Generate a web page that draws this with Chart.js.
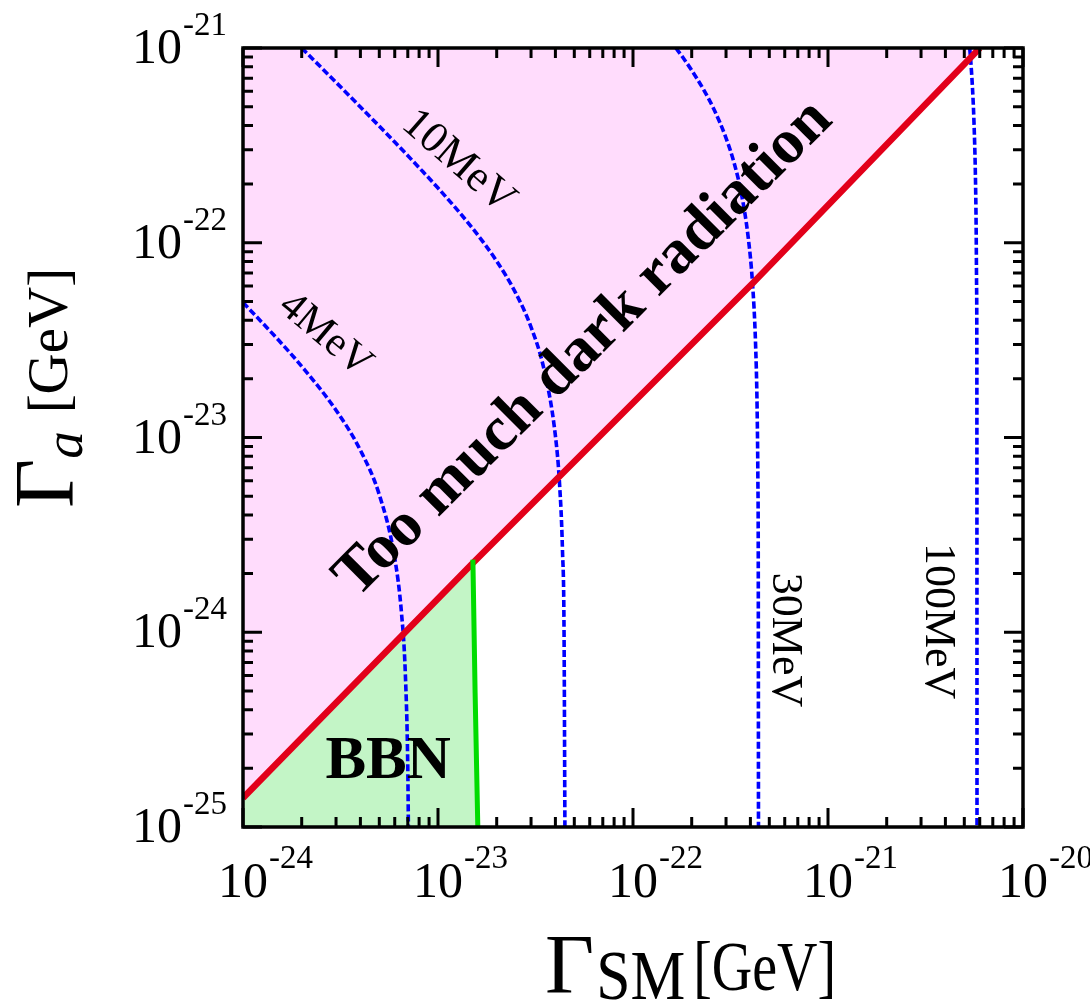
<!DOCTYPE html>
<html>
<head>
<meta charset="utf-8">
<script src="https://cdn.jsdelivr.net/npm/chart.js@4.4.1/dist/chart.umd.min.js"></script>
<style>
  html, body { margin: 0; padding: 0; background: #fff; }
  #wrap { width: 1090px; height: 1002px; position: relative; }
</style>
</head>
<body>
<div id="wrap"><canvas id="chart_decay"></canvas></div>
<script>
// red boundary: above it there is too much dark radiation
const redX = [1e-24, 1.51e-23, 4.12e-22, 6.01e-21];
const redY = [1.41e-25, 2.27e-24, 6.21e-23, 1e-21];
// green BBN boundary
const bbnX = [1.51e-23, 1.55e-23, 1.60e-23];
const bbnY = [2.36e-24, 4.88e-25, 1e-25];
// temperature contours (blue dashed)
const mev4X = [1.0e-24, 1.5e-24, 2.0e-24, 3.0e-24, 4.0e-24, 5.0e-24, 6.0e-24, 6.5e-24, 6.8e-24, 7.0e-24, 7.05e-24];
const mev4Y = [4.94e-23, 3.21e-23, 2.32e-23, 1.38e-23, 8.6e-24, 5.08e-24, 2.4e-24, 1.25e-24, 6.1e-25, 2.0e-25, 1e-25];
const mev10X = [2.0e-24, 3.0e-24, 4.0e-24, 6.0e-24, 8.0e-24, 1.0e-23, 1.5e-23, 2.0e-23, 2.5e-23, 3.0e-23, 3.5e-23, 4.0e-23, 4.2e-23, 4.35e-23, 4.43e-23, 4.475e-23];
const mev10Y = [1e-21, 6.66e-22, 4.98e-22, 3.29e-22, 2.43e-22, 1.91e-22, 1.19e-22, 8.04e-23, 5.53e-23, 3.69e-23, 2.23e-23, 1.02e-23, 5.8e-24, 2.6e-24, 1.0e-24, 1e-25];
const mev30X = [1.66e-22, 1.8e-22, 2.0e-22, 2.3e-22, 2.6e-22, 3.0e-22, 3.3e-22, 3.6e-22, 3.9e-22, 4.1e-22, 4.25e-22, 4.33e-22, 4.37e-22, 4.39e-22, 4.4e-22];
const mev30Y = [1e-21, 8.96e-22, 7.68e-22, 6.12e-22, 4.85e-22, 3.45e-22, 2.57e-22, 1.78e-22, 1.06e-22, 6.2e-23, 3.05e-23, 1.41e-23, 6.0e-24, 2.0e-24, 1e-25];
const mev100X = [5.33e-21, 5.4e-21, 5.5e-21, 5.6e-21, 5.7e-21, 5.75e-21, 5.78e-21, 5.8e-21, 5.81e-21];
const mev100Y = [1e-21, 8.5e-22, 6.38e-22, 4.29e-22, 2.23e-22, 1.21e-22, 6.1e-23, 2.1e-23, 1e-25];
// axis decades
const xTickExps = [-24, -23, -22, -21, -20];
const yTickExps = [-25, -24, -23, -22, -21];

const pts = (xs, ys) => xs.map((x, i) => ({x: x, y: ys[i]}));
const SERIF = '"Liberation Serif", "Times New Roman", serif';

const contour = (xs, ys) => ({
    data: pts(xs, ys),
    showLine: true,
    borderColor: '#0000FF',
    borderWidth: 3.6,
    borderDash: [7, 3],
    cubicInterpolationMode: 'monotone',
    pointRadius: 0,
    fill: false,
    order: 5
});

// labels placed in data coordinates
const notes = [
    {text: '4MeV', x: 2.64e-24, y: 3.36e-23, rot: 40, font: '42px ' + SERIF},
    {text: '10MeV', x: 1.27e-23, y: 2.60e-22, rot: 41, font: '44px ' + SERIF},
    {text: '30MeV', x: 6.01e-22, y: 9.12e-25, rot: 90, font: '44px ' + SERIF},
    {text: '100MeV', x: 3.66e-21, y: 1.14e-24, rot: 90, font: '44px ' + SERIF},
    {text: 'Too much dark radiation', x: 5.6e-23, y: 2.85e-23, rot: -45, font: 'bold 63px ' + SERIF},
    {text: 'BBN', x: 5.55e-24, y: 2.16e-25, rot: 0, font: 'bold 61px ' + SERIF}
];

function piece(ctx, str, x, y, font, sx) {
    ctx.save();
    ctx.font = font;
    ctx.translate(x, y);
    ctx.scale(sx || 1, 1);
    ctx.fillText(str, 0, 0);
    const w = ctx.measureText(str).width * (sx || 1);
    ctx.restore();
    return w;
}

const decor = {
    id: 'decor',
    afterDatasetsDraw(chart) {
        const ctx = chart.ctx;
        const xs = chart.scales.x, ys = chart.scales.y;
        const a = chart.chartArea;
        ctx.save();
        ctx.fillStyle = '#000';
        ctx.strokeStyle = '#000';

        // annotations
        notes.forEach(n => {
            ctx.save();
            ctx.translate(xs.getPixelForValue(n.x), ys.getPixelForValue(n.y));
            ctx.rotate(n.rot * Math.PI / 180);
            ctx.font = n.font;
            ctx.textAlign = 'center';
            ctx.textBaseline = 'middle';
            ctx.fillText(n.text, 0, 0);
            ctx.restore();
        });

        // inside ticks on all four sides
        ctx.lineWidth = 3;
        ctx.beginPath();
        xTickExps.forEach(e => {
            for (let k = 1; k <= 9; k++) {
                const v = k * Math.pow(10, e);
                if (v < xs.min * 0.999 || v > xs.max * 1.001) continue;
                const p = xs.getPixelForValue(v);
                const len = k === 1 ? 19 : 10;
                ctx.moveTo(p, a.bottom); ctx.lineTo(p, a.bottom - len);
                ctx.moveTo(p, a.top); ctx.lineTo(p, a.top + len);
            }
        });
        yTickExps.forEach(e => {
            for (let k = 1; k <= 9; k++) {
                const v = k * Math.pow(10, e);
                if (v < ys.min * 0.999 || v > ys.max * 1.001) continue;
                const p = ys.getPixelForValue(v);
                const len = k === 1 ? 19 : 10;
                ctx.moveTo(a.left, p); ctx.lineTo(a.left + len, p);
                ctx.moveTo(a.right, p); ctx.lineTo(a.right - len, p);
            }
        });
        ctx.stroke();

        // frame
        ctx.lineWidth = 3.5;
        ctx.strokeRect(a.left, a.top, a.right - a.left, a.bottom - a.top);

        // tick labels 10^n
        ctx.textBaseline = 'alphabetic';
        ctx.textAlign = 'left';
        const big = '50px ' + SERIF, sup = '33px ' + SERIF;
        xTickExps.forEach(e => {
            const p = xs.getPixelForValue(Math.pow(10, e));
            ctx.font = big;
            const w = ctx.measureText('10').width;
            ctx.fillText('10', p - w / 2, a.bottom + 70);
            ctx.font = sup;
            ctx.fillText(String(e), p + w / 2 + 1, a.bottom + 41);
        });
        yTickExps.forEach(e => {
            const p = ys.getPixelForValue(Math.pow(10, e));
            ctx.font = sup;
            const ws = ctx.measureText(String(e)).width;
            ctx.fillText(String(e), a.left - 16 - ws, p - 13);
            ctx.font = big;
            const w = ctx.measureText('10').width;
            ctx.fillText('10', a.left - 17 - ws - w, p + 15);
        });

        // x title: Γ_SM [GeV]
        let cx = 545;
        cx += piece(ctx, 'Γ', cx, 993, '85px ' + SERIF);
        cx += 2;
        cx += piece(ctx, 'SM', cx, 999, '70px ' + SERIF, 0.88);
        cx += 8;
        piece(ctx, '[GeV]', cx, 990, '70px ' + SERIF, 0.8);

        // y title: Γ_a [GeV], rotated
        ctx.save();
        ctx.translate(73, 508);
        ctx.rotate(-Math.PI / 2);
        let lx = 0;
        lx += piece(ctx, 'Γ', lx, 0, '85px ' + SERIF);
        lx += piece(ctx, 'a', lx, 9, 'italic 55px ' + SERIF);
        lx += 18;
        piece(ctx, '[GeV]', lx, -6, '57px ' + SERIF);
        ctx.restore();

        ctx.restore();
    }
};

const config_decay = {
    type: 'scatter',
    data: {
        datasets: [
            {
                // excluded region above the red line
                data: pts(redX, redY),
                showLine: true,
                borderWidth: 0,
                borderColor: 'rgba(0,0,0,0)',
                backgroundColor: '#FFDCFC',
                pointRadius: 0,
                fill: 'end',
                order: 10
            },
            {
                // BBN excluded region
                data: [pts(redX, redY)[0], pts(redX, redY)[1]].concat(pts(bbnX, bbnY).slice(1)),
                showLine: true,
                borderWidth: 0,
                borderColor: 'rgba(0,0,0,0)',
                backgroundColor: '#C3F5C6',
                pointRadius: 0,
                fill: 'start',
                order: 9
            },
            contour(mev4X, mev4Y),
            contour(mev10X, mev10Y),
            contour(mev30X, mev30Y),
            contour(mev100X, mev100Y),
            {
                data: pts(bbnX, bbnY),
                showLine: true,
                borderColor: '#00DC00',
                borderWidth: 5,
                pointRadius: 0,
                fill: false,
                order: 0
            },
            {
                data: pts(redX, redY),
                showLine: true,
                borderColor: '#E2001A',
                borderWidth: 6.5,
                pointRadius: 0,
                fill: false,
                order: 1
            }
        ]
    },
    options: {
        responsive: true,
        maintainAspectRatio: false,
        animation: false,
        layout: { padding: { left: 243, right: 67, top: 48, bottom: 175 } },
        plugins: { legend: { display: false }, tooltip: { enabled: false } },
        scales: {
            x: { type: 'logarithmic', min: 1e-24, max: 1e-20, display: false },
            y: { type: 'logarithmic', min: 1e-25, max: 1e-21, display: false }
        }
    },
    plugins: [decor]
};

const myChart_decay = new Chart(document.getElementById('chart_decay'), config_decay);
</script>
</body>
</html>
